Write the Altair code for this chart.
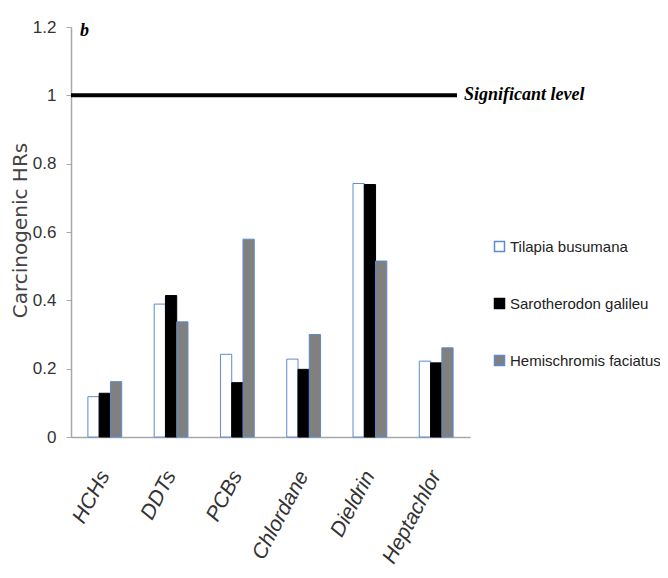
import altair as alt
import pandas as pd

categories = ["HCHs", "DDTs", "PCBs", "Chlordane", "Dieldrin", "Heptachlor"]
series = ["Tilapia busumana", "Sarotherodon galileu", "Hemischromis faciatus"]
tilapia = [0.118, 0.389, 0.242, 0.228, 0.742, 0.222]
sarotherodon = [0.128, 0.414, 0.159, 0.198, 0.739, 0.217]
hemischromis = [0.162, 0.337, 0.579, 0.300, 0.515, 0.261]
y_ticks = [0, 0.2, 0.4, 0.6, 0.8, 1, 1.2]
significant_level = 1
panel_label = "b"
line_label = "Significant level"

rows = []
for name, vals in zip(series, [tilapia, sarotherodon, hemischromis]):
    for c, v in zip(categories, vals):
        rows.append({"Compound": c, "Species": name, "HR": v})
df = pd.DataFrame(rows)

fills = ["white", "black", "#808080"]
strokes = ["#5B8BD0", "black", "#5B8BD0"]

x_enc = alt.X(
    "Compound:N", sort=categories, title=None,
    scale=alt.Scale(paddingInner=0.49, paddingOuter=0.255),
    axis=alt.Axis(labelAngle=-62, labelAlign="right", labelBaseline="middle",
                  labelPadding=35, ticks=False, labelFontSize=21,
                  labelFontStyle="italic", labelFont="Liberation Sans",
                  labelColor="#333333", domainColor="#a8a8a8", domainWidth=1.5),
)
y_scale = alt.Scale(domain=[0, 1.2], nice=False)

bars = alt.Chart(df).mark_bar(strokeWidth=1).encode(
    x=x_enc,
    xOffset=alt.XOffset("Species:N", sort=series),
    y=alt.Y("HR:Q", scale=y_scale, title="Carcinogenic HRs",
            axis=alt.Axis(values=y_ticks, format="~g", grid=False, tickSize=5,
                          tickColor="#a8a8a8", domainColor="#a8a8a8", domainWidth=1.5,
                          labelFontSize=17, labelFont="Liberation Sans", labelColor="#333333",
                          labelPadding=10,
                          titleFont="DejaVu Sans", titleFontSize=20, titleFontWeight="normal",
                          titleColor="#444444", titleX=-41, titleY=203,
                          titleBaseline="bottom")),
    fill=alt.Fill("Species:N", sort=series, title=None,
                  scale=alt.Scale(domain=series, range=fills)),
    stroke=alt.Stroke("Species:N", sort=series, title=None,
                      scale=alt.Scale(domain=series, range=strokes)),
)

line_df = pd.DataFrame({"y": [significant_level], "label": [line_label]})
rule = alt.Chart(line_df).mark_rule(color="black", strokeWidth=4).encode(
    y=alt.Y("y:Q", scale=y_scale),
    x=alt.value(0), x2=alt.value(386),
)
rule_text = alt.Chart(line_df).mark_text(
    align="left", baseline="middle", font="Liberation Serif", fontSize=18,
    fontStyle="italic", fontWeight="bold", color="black", dx=0
).encode(
    y=alt.Y("y:Q", scale=y_scale), x=alt.value(393), text="label:N"
)

panel_df = pd.DataFrame({"t": [panel_label]})
panel = alt.Chart(panel_df).mark_text(
    align="left", baseline="top", font="Liberation Serif", fontSize=18,
    fontStyle="italic", fontWeight="bold", color="black"
).encode(x=alt.value(9), y=alt.value(-5), text="t:N")

chart = alt.layer(bars, rule, rule_text, panel).properties(
    width=399, height=410,
    autosize="none",
    padding={"left": 63, "top": 19, "right": 190, "bottom": 133},
).configure_view(stroke=None).configure_legend(
    orient="none", legendX=421, legendY=212, padding=0,
    symbolType="square", symbolSize=100, symbolStrokeWidth=1.5,
    labelFontSize=15, labelFont="Liberation Sans", labelColor="#222222",
    labelLimit=300, labelOffset=3, rowPadding=40,
)

chart.save("out.html", embed_options={"renderer": "svg", "actions": False})
